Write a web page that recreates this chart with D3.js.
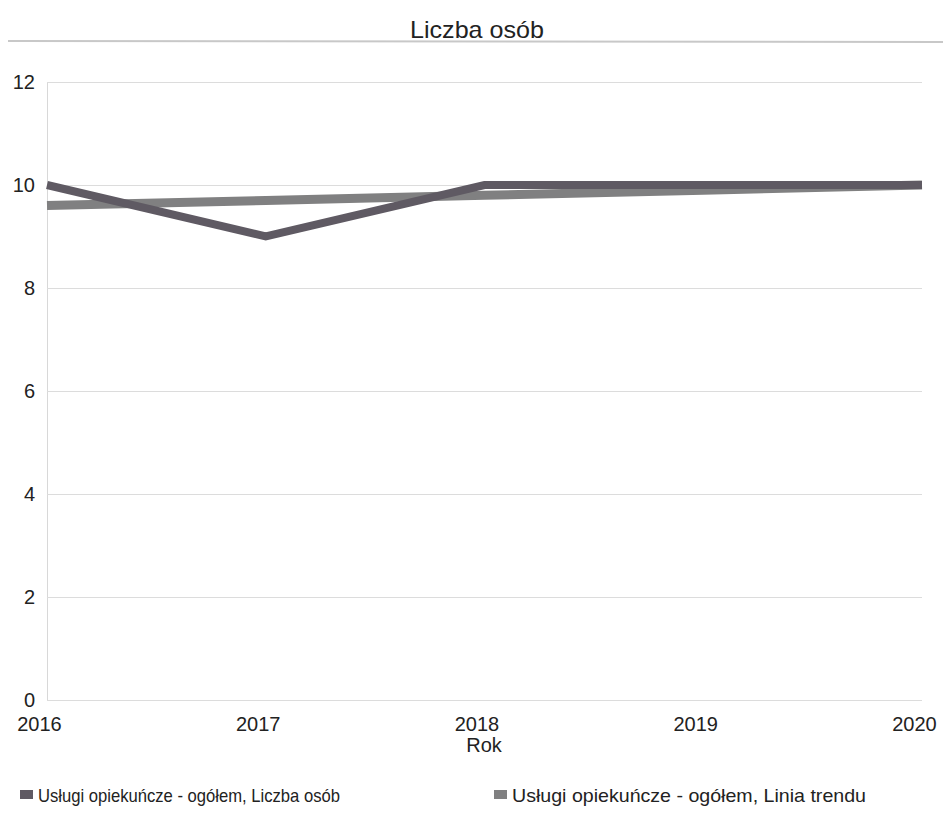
<!DOCTYPE html>
<html><head><meta charset="utf-8">
<script src="https://cdn.jsdelivr.net/npm/d3@7"></script>
<style>body{margin:0;background:#fff;font-family:"Liberation Sans",Arial,sans-serif;}</style>
</head><body>
<svg id="c" width="943" height="831"></svg>
<script>
const years = [2016, 2017, 2018, 2019, 2020];
const seriesValues = [10, 9, 10, 10, 10];
const trendValues = [9.6, 9.7, 9.8, 9.9, 10.0];
const yTicks = [0, 2, 4, 6, 8, 10, 12];
const seriesNames = ["Usługi opiekuńcze - ogółem, Liczba osób", "Usługi opiekuńcze - ogółem, Linia trendu"];
const colors = ["#5f5a63", "#808081"];

const svg = d3.select("#c");
const x = d3.scaleLinear().domain([2016, 2020]).range([47, 922]);
const y = d3.scaleLinear().domain([0, 12]).range([700, 82]);
const FF = "Liberation Sans, Arial, sans-serif";

svg.append("text").attr("x", 477).attr("y", 38).attr("text-anchor", "middle")
  .attr("font-size", 24).attr("fill", "#222").attr("textLength", 134)
  .attr("lengthAdjust", "spacingAndGlyphs").text("Liczba osób");
svg.append("line").attr("x1", 8).attr("x2", 943).attr("y1", 41).attr("y2", 42)
  .attr("stroke", "#c8c8c8").attr("stroke-width", 2);

const yAxis = d3.axisLeft(y).tickValues(yTicks).tickSize(-(922 - 47)).tickFormat(d3.format("d"));
const gy = svg.append("g").attr("transform", "translate(47,0)").call(yAxis);
gy.select(".domain").attr("stroke", "#d8d8d8");
gy.selectAll(".tick line").attr("stroke", "#dcdcdc");
gy.selectAll(".tick text").attr("x", -12).attr("dy", "0.3em").attr("font-size", 20).attr("fill", "#222")
  .attr("font-family", FF);

const xAxis = d3.axisBottom(x).tickValues(years).tickSize(0).tickFormat(d3.format("d"));
const gx = svg.append("g").attr("transform", "translate(0,700)").call(xAxis);
gx.select(".domain").remove();
gx.selectAll(".tick text").attr("dx", -8).attr("y", 17).attr("font-size", 20).attr("fill", "#222")
  .attr("font-family", FF);

svg.append("text").attr("x", 484).attr("y", 752).attr("text-anchor", "middle")
  .attr("font-size", 20).attr("fill", "#222").text("Rok");

const line = d3.line().x((d, i) => x(years[i])).y(d => y(d));
svg.append("path").datum(trendValues).attr("d", line).attr("fill", "none")
  .attr("stroke", colors[1]).attr("stroke-width", 9);
svg.append("path").datum(seriesValues).attr("d", line).attr("fill", "none")
  .attr("stroke", colors[0]).attr("stroke-width", 8).attr("stroke-linejoin", "miter");

const legX = [20, 494];
const legW = [302, 354];
seriesNames.forEach((n, i) => {
  const g = svg.append("g").attr("transform", `translate(${legX[i]},797)`);
  g.append("rect").attr("x", 0).attr("y", -7).attr("width", 13).attr("height", 9).attr("fill", colors[i]);
  g.append("text").attr("x", 18).attr("y", 5).attr("font-size", 18.5).attr("fill", "#222")
    .attr("textLength", legW[i]).attr("lengthAdjust", "spacingAndGlyphs").text(n);
});
</script>
</body></html>
